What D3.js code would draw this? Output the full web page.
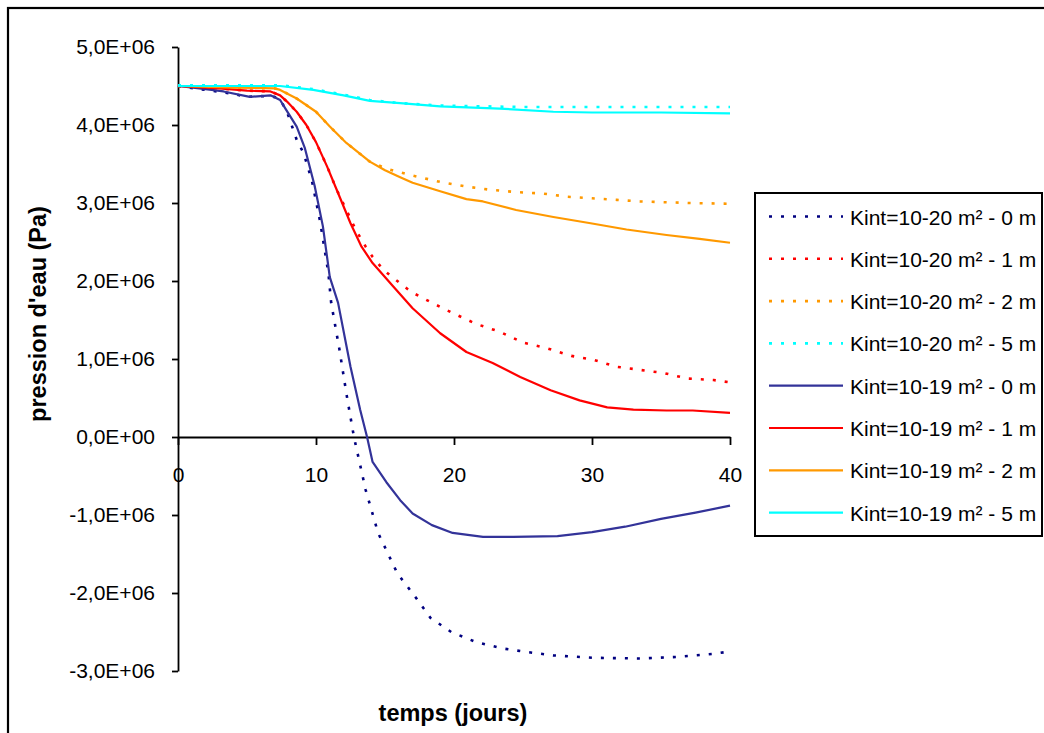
<!DOCTYPE html>
<html><head><meta charset="utf-8">
<script src="https://cdn.jsdelivr.net/npm/d3@7"></script>
<style>body{margin:0;background:#fff}svg{display:block}text{font-family:"Liberation Sans",Arial,sans-serif}</style>
</head><body><svg id="c" width="1044" height="733"></svg>
<script>
// ---- data (pressure in 1E+06 Pa, time in days) ----
const xTicks = [0, 10, 20, 30, 40];
const yTicks = [-3, -2, -1, 0, 1, 2, 3, 4, 5];
const seriesNames = ["Kint=10-20 m² - 0 m","Kint=10-20 m² - 1 m","Kint=10-20 m² - 2 m","Kint=10-20 m² - 5 m",
                     "Kint=10-19 m² - 0 m","Kint=10-19 m² - 1 m","Kint=10-19 m² - 2 m","Kint=10-19 m² - 5 m"];
const seriesColors = ["#000080","#FF0000","#FF9900","#00FFFF","#333399","#FF0000","#FF9900","#00FFFF"];
const seriesDotted = [true,true,true,true,false,false,false,false];

const d0_t = [0,2,4,5,6,7,7.5,8,8.6,9.1,9.7,10.3,10.9,11.1,11.7,12.2,12.75,13.6,14.5,15.9,17.2,18.3,19.8,21.6,23.5,25,27.2,30,33.5,36.1,38.8,40];
const d0_v = [4.5,4.45,4.4,4.36,4.37,4.36,4.3,4.12,3.81,3.64,3.29,2.76,2.1,1.72,1.12,0.56,0,-0.68,-1.23,-1.75,-2.05,-2.32,-2.5,-2.63,-2.71,-2.75,-2.8,-2.83,-2.84,-2.82,-2.78,-2.75];
const d1_t = [0,3,5,6.7,7.4,7.9,8.6,9.3,10,10.8,11.5,12.2,12.9,13.6,14.1,14.9,15.6,16.9,18.3,19.9,21.6,23.3,25,26.7,28.5,30.1,31.8,33.5,35.2,36.9,38.8,40];
const d1_v = [4.5,4.47,4.44,4.43,4.38,4.3,4.17,4.0,3.78,3.47,3.17,2.91,2.65,2.44,2.31,2.14,2.04,1.86,1.73,1.59,1.45,1.35,1.21,1.14,1.04,0.99,0.9,0.86,0.82,0.75,0.73,0.7];
const d2_t = [0,4,7,7.4,8.6,10,11,12.2,13.9,15.1,16.8,19,20.9,22.6,24.5,26.5,28.2,30,31.8,33.5,35.2,37.1,40];
const d2_v = [4.5,4.48,4.47,4.45,4.34,4.17,3.98,3.77,3.53,3.44,3.36,3.27,3.21,3.17,3.14,3.12,3.08,3.06,3.04,3.02,3.01,3.0,2.99];
const d5_t = [0,5,7.4,9.8,12,13.9,16.1,19,22,25,30,35,40];
const d5_v = [4.51,4.51,4.51,4.46,4.39,4.32,4.28,4.25,4.24,4.23,4.23,4.23,4.23];
const s0_t = [0,2,3.3,5.2,6.7,7.4,7.75,8.6,9.2,9.9,10.5,11.0,11.6,12.5,13.2,13.7,14.1,15.1,16.1,17,18.4,19.9,22.1,24.3,27.5,30,32.4,35,37.5,40];
const s0_v = [4.5,4.46,4.43,4.36,4.38,4.32,4.22,3.98,3.7,3.22,2.7,2.05,1.72,0.9,0.35,0,-0.32,-0.58,-0.81,-0.98,-1.13,-1.23,-1.28,-1.28,-1.27,-1.22,-1.15,-1.05,-0.97,-0.88];
const s1_t = [0,3,5,6.7,7.4,7.9,8.6,9.3,10,10.8,11.5,12.5,13.3,14.1,15.6,17,19,20.9,22.8,24.8,27,29.1,31.1,33,35.4,37.3,40];
const s1_v = [4.5,4.47,4.44,4.43,4.38,4.3,4.17,4.0,3.78,3.47,3.17,2.74,2.44,2.23,1.93,1.65,1.33,1.09,0.95,0.77,0.6,0.47,0.38,0.35,0.34,0.34,0.31];
const s2_t = [0,4,7,7.4,8.6,10,11,12.2,13.9,15,16.1,17,19,20.9,22.1,24.5,27.2,29.9,32.5,35.4,37.8,40];
const s2_v = [4.5,4.48,4.47,4.45,4.34,4.17,3.98,3.77,3.53,3.42,3.33,3.26,3.15,3.05,3.02,2.91,2.82,2.74,2.66,2.59,2.54,2.49];
const s5_t = [0,5,7.4,9.8,12,13.9,16.1,19,21.9,23.3,27.2,30,35,40];
const s5_v = [4.5,4.5,4.5,4.45,4.38,4.31,4.28,4.24,4.22,4.21,4.17,4.16,4.16,4.15];

const seriesT = [d0_t,d1_t,d2_t,d5_t,s0_t,s1_t,s2_t,s5_t];
const seriesV = [d0_v,d1_v,d2_v,d5_v,s0_v,s1_v,s2_v,s5_v];

// ---- layout ----
const svg = d3.select("#c");
const x = d3.scaleLinear().domain([0,40]).range([178,730]);
const y = d3.scaleLinear().domain([-3,5]).range([671,47]);
const fmt = v => (v<0?"-":"") + Math.abs(v).toFixed(1).replace(".",",") + "E+0" + (v===0?"0":"6");

svg.append("rect").attr("width",1044).attr("height",733).attr("fill","#fff");
// outer chart frame
svg.append("rect").attr("x",8).attr("y",8).attr("width",1200).attr("height",900)
  .attr("fill","none").attr("stroke","#000").attr("stroke-width",2.2);

// y axis
const gy = svg.append("g").attr("transform","translate(178,0)")
  .call(d3.axisLeft(y).tickValues(yTicks).tickFormat(fmt).tickSize(6).tickSizeOuter(0).tickPadding(17));
// x axis at zero
const gx = svg.append("g").attr("transform",`translate(0,${y(0)})`)
  .call(d3.axisBottom(x).tickValues(xTicks).tickSize(8).tickSizeOuter(0).tickPadding(22));
[gx,gy].forEach(g=>{
  g.selectAll("path,line").attr("stroke","#000").attr("stroke-width",1.8);
  g.selectAll("text").attr("font-size",21).attr("fill","#000").attr("font-family","'Liberation Sans',Arial,sans-serif");
});

// axis titles
svg.append("text").attr("x",453).attr("y",721).attr("text-anchor","middle")
  .attr("font-size",23.5).attr("font-weight","bold").text("temps (jours)");
svg.append("text").attr("transform","translate(46,314) rotate(-90)").attr("text-anchor","middle")
  .attr("font-size",23.5).attr("font-weight","bold").text("pression d'eau (Pa)");

// series
const line = d3.line().x(d=>x(d[0])).y(d=>y(d[1]));
const plot = svg.append("g");
seriesNames.forEach((n,i)=>{
  const pts = seriesT[i].map((t,j)=>[t, seriesV[i][j]]);
  plot.append("path").datum(pts).attr("d",line).attr("fill","none")
    .attr("stroke",seriesColors[i]).attr("stroke-width",seriesDotted[i]?2.6:2.2)
    .attr("stroke-dasharray",seriesDotted[i]?"3,9":null)
    .attr("stroke-linejoin","round");
});

// legend
const lg = svg.append("g");
lg.append("rect").attr("x",755).attr("y",193).attr("width",287).attr("height",343)
  .attr("fill","#fff").attr("stroke","#000").attr("stroke-width",2);
seriesNames.forEach((n,i)=>{
  const ly = 216.5 + i*42.3;
  lg.append("line").attr("x1",769).attr("x2",843).attr("y1",ly).attr("y2",ly)
    .attr("stroke",seriesColors[i]).attr("stroke-width",seriesDotted[i]?2.6:2.2)
    .attr("stroke-dasharray",seriesDotted[i]?"3,9":null);
  lg.append("text").attr("x",850).attr("y",ly+8).attr("font-size",21).attr("fill","#000").text(n);
});
</script></body></html>
